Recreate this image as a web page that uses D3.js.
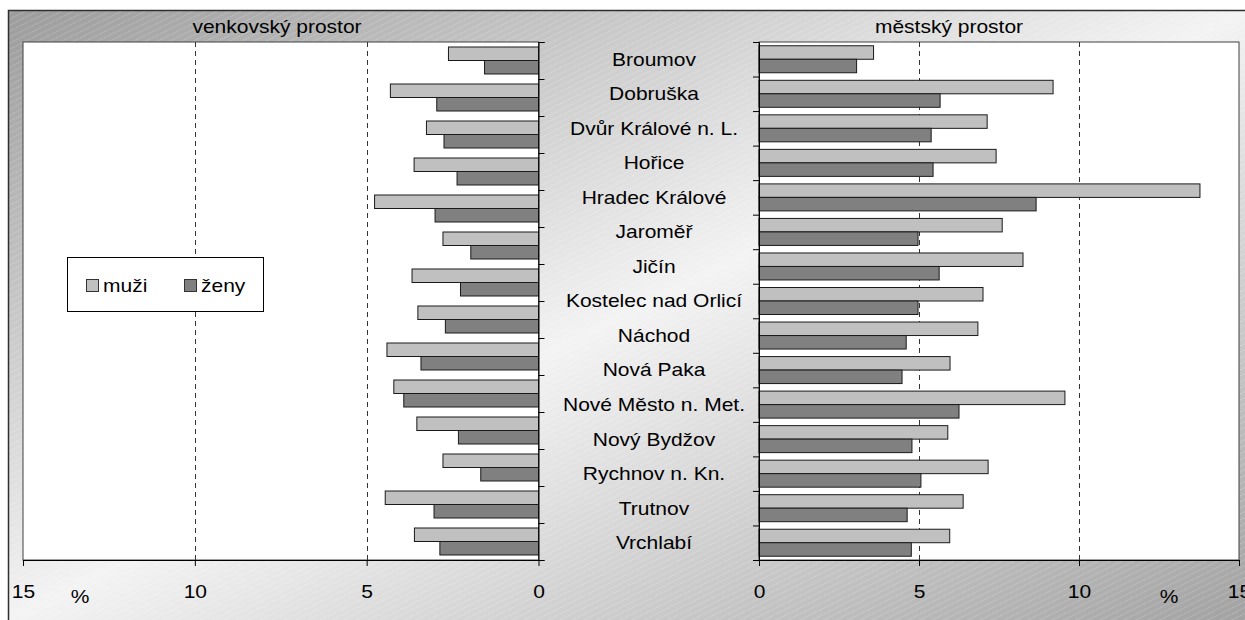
<!DOCTYPE html>
<html>
<head>
<meta charset="utf-8">
<script src="https://cdn.jsdelivr.net/npm/d3@7"></script>
<style>
  html, body { margin: 0; padding: 0; background: #ffffff; }
  svg { display: block; }
  text { font-family: "Liberation Sans", Arial, sans-serif; fill: #000; }
</style>
</head>
<body>
<svg id="chart" width="1245" height="620"></svg>
<script>
// ---------- data ----------
const categories = ["Broumov", "Dobruška", "Dvůr Králové n. L.", "Hořice", "Hradec Králové",
  "Jaroměř", "Jičín", "Kostelec nad Orlicí", "Náchod", "Nová Paka",
  "Nové Město n. Met.", "Nový Bydžov", "Rychnov n. Kn.", "Trutnov", "Vrchlabí"];
// the rural panel shows 14 rows
const ruralCategories = ["Broumov", "Dobruška", "Dvůr Králové n. L.", "Hořice", "Hradec Králové",
  "Jaroměř", "Jičín", "Kostelec nad Orlicí", "Náchod", "Nová Paka",
  "Nové Město n. Met.", "Nový Bydžov", "Rychnov n. Kn.", "Trutnov"];
const seriesNames = ["muži", "ženy"];
const ruralMen   = [2.62, 4.31, 3.26, 3.62, 4.77, 2.78, 3.68, 3.51, 4.41, 4.21, 3.54, 2.78, 4.46, 3.61];
const ruralWomen = [1.57, 2.96, 2.75, 2.37, 3.01, 1.97, 2.27, 2.71, 3.42, 3.92, 2.33, 1.68, 3.04, 2.87];
const urbanMen   = [3.58, 9.19, 7.13, 7.41, 13.78, 7.60, 8.25, 7.00, 6.84, 5.97, 9.56, 5.90, 7.16, 6.38, 5.96];
const urbanWomen = [3.05, 5.66, 5.38, 5.44, 8.66, 4.97, 5.63, 4.97, 4.60, 4.47, 6.25, 4.78, 5.06, 4.63, 4.76];
const xTicks = [0, 5, 10, 15];
const gridValues = [5, 10];
const panelTitles = ["venkovský prostor", "městský prostor"];
const unitLabel = "%";

// ---------- layout ----------
const svg = d3.select("#chart");
const colors = { "muži": "#c0c0c0", "ženy": "#808080" };
const FS = 17.5, STRETCH = 1.2;
const plotTop = 42, plotBottom = 560;
const L = { x0: 538.5, x1: 23 };
const R = { x0: 759, x1: 1239 };

// background
const defs = svg.append("defs");
const grad = defs.append("linearGradient").attr("id", "bg")
  .attr("x1", 0).attr("y1", 0).attr("x2", 1).attr("y2", 1);
grad.append("stop").attr("offset", 0).attr("stop-color", "#9c9c9c");
grad.append("stop").attr("offset", 0.5).attr("stop-color", "#f3f3f3");
grad.append("stop").attr("offset", 1).attr("stop-color", "#a2a2a2");
const pat = defs.append("pattern").attr("id", "hatch")
  .attr("patternUnits", "userSpaceOnUse").attr("width", 12).attr("height", 6);
[-6, 0, 6].forEach(o => {
  pat.append("line").attr("x1", -12).attr("y1", 12 + o).attr("x2", 24).attr("y2", -6 + o)
    .attr("stroke", "#ffffff").attr("stroke-opacity", 0.35).attr("stroke-width", 0.8)
    .attr("stroke-dasharray", "1.5,1");
});
svg.append("rect").attr("x", 8).attr("y", 10).attr("width", 1237).attr("height", 610)
  .attr("fill", "url(#bg)");
svg.append("rect").attr("x", 8).attr("y", 10).attr("width", 1237).attr("height", 610)
  .attr("fill", "url(#hatch)");
svg.append("path").attr("d", "M8.5,620 V10.5 H1245")
  .attr("fill", "none").attr("stroke", "#2f2f2f").attr("stroke-width", 1.5);

function stretchedText(g, x, y, str, anchor) {
  return g.append("text")
    .attr("transform", `translate(${x},${y}) scale(${STRETCH},1)`)
    .attr("text-anchor", anchor || "middle")
    .style("font-size", FS + "px")
    .text(str);
}

function panel(cats, men, women, xr, side) {
  const x = d3.scaleLinear().domain([0, 15]).range([xr.x0, xr.x1]);
  const step = (plotBottom - plotTop) / cats.length;
  const pad = (step - 27) / step;
  const y = d3.scaleBand().domain(cats).range([plotTop, plotBottom]).paddingInner(pad).paddingOuter(pad / 2);
  const ys = d3.scaleBand().domain(seriesNames).range([0, y.bandwidth()]);
  const g = svg.append("g");
  const xl = Math.min(xr.x0, xr.x1), xh = Math.max(xr.x0, xr.x1);
  g.append("rect").attr("x", xl).attr("y", plotTop).attr("width", xh - xl).attr("height", plotBottom - plotTop)
    .attr("fill", "#fff").attr("stroke", "#404040").attr("stroke-width", 1);
  // grid
  g.selectAll(".grid").data(gridValues).enter().append("line")
    .attr("x1", d => Math.round(x(d)) + 0.5).attr("x2", d => Math.round(x(d)) + 0.5)
    .attr("y1", plotTop).attr("y2", plotBottom)
    .attr("stroke", "#333").attr("stroke-dasharray", "5,4");
  // bars
  const rows = cats.map((c, i) => ({ c, vals: [men[i], women[i]] }));
  const rg = g.selectAll(".row").data(rows).enter().append("g")
    .attr("transform", d => `translate(0,${y(d.c)})`);
  rg.selectAll("rect").data(d => d.vals.map((v, k) => ({ v, s: seriesNames[k] }))).enter()
    .append("rect")
    .attr("x", d => Math.min(x(0), x(d.v)))
    .attr("width", d => Math.abs(x(d.v) - x(0)))
    .attr("y", d => ys(d.s))
    .attr("height", ys.bandwidth())
    .attr("fill", d => colors[d.s])
    .attr("stroke", "#1a1a1a").attr("stroke-width", 1);
  // category boundary axis
  const yb = d3.scaleLinear().domain([0, cats.length]).range([plotTop, plotBottom]);
  const ax = side === "left" ? d3.axisRight(yb) : d3.axisLeft(yb);
  g.append("g").attr("transform", `translate(${x(0)},0)`)
    .call(ax.tickValues(d3.range(cats.length + 1)).tickSize(6).tickFormat(""))
    .call(s => s.select(".domain").attr("stroke", "#000"))
    .call(s => s.selectAll(".tick line").attr("stroke", "#000"));
  // bottom axis
  const bx = g.append("g").attr("transform", `translate(0,${plotBottom})`)
    .call(d3.axisBottom(x).tickValues(xTicks).tickSize(6).tickSizeOuter(0).tickFormat(d3.format("d")));
  bx.select(".domain").attr("stroke", "#000");
  bx.selectAll(".tick line").attr("stroke", "#000");
  bx.selectAll(".tick text").attr("y", null).attr("dy", null)
    .attr("transform", `translate(0,38) scale(${STRETCH},1)`)
    .attr("fill", "#000").style("font-size", FS + "px")
    .style("font-family", '"Liberation Sans", Arial, sans-serif');
  return { x, y };
}

const left = panel(ruralCategories, ruralMen, ruralWomen, L, "left");
const right = panel(categories, urbanMen, urbanWomen, R, "right");

// titles
stretchedText(svg, 277, 33, panelTitles[0]);
stretchedText(svg, 949, 33, panelTitles[1]);
// category labels (centre column)
categories.forEach(c => {
  stretchedText(svg, 654, right.y(c) + right.y.bandwidth() / 2 + 6.4, c);
});
// unit labels
stretchedText(svg, 80, 603, unitLabel);
stretchedText(svg, 1169, 603, unitLabel);

// legend
const lg = svg.append("g");
lg.append("rect").attr("x", 67.5).attr("y", 257.5).attr("width", 196).attr("height", 54)
  .attr("fill", "#fff").attr("stroke", "#000");
const legX = [86, 184];
seriesNames.forEach((s, i) => {
  lg.append("rect").attr("x", legX[i] + 0.5).attr("y", 279.5).attr("width", 12).attr("height", 12)
    .attr("fill", colors[s]).attr("stroke", "#333");
  stretchedText(lg, legX[i] + 17, 292, s, "start");
});
</script>
</body>
</html>
